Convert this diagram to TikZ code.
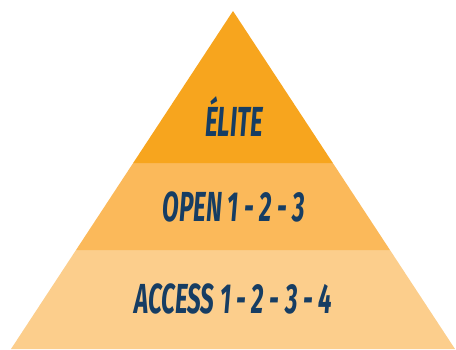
\documentclass[tikz,border=0pt]{standalone}
\usepackage{fontspec}
\setmainfont{Fira Sans}
\newfontfamily\tierfont[FakeStretch=0.58]{Fira Sans}
\usepackage{tikz}
\usetikzlibrary{calc}

\definecolor{eliteorange}{HTML}{F7A51E}
\definecolor{openorange}{HTML}{FBB95A}
\definecolor{accessorange}{HTML}{FCCE8C}
\definecolor{tiernavy}{HTML}{163D63}

\begin{document}
\begin{tikzpicture}[x=1pt, y=-1pt,
  tier/.style={font=\tierfont\bfseries\itshape\fontsize{42}{42}\selectfont, text=tiernavy, inner sep=0pt}]
\useasboundingbox (0,0) rectangle (456,349);
% corners of the pyramid
\coordinate (apex) at (233,11);
\coordinate (bl) at (11,349);
\coordinate (br) at (455,349);
\coordinate (ml) at ($(apex)!0.4497!(bl)$);
\coordinate (mr) at ($(apex)!0.4497!(br)$);
\coordinate (ll) at ($(apex)!0.7071!(bl)$);
\coordinate (lr) at ($(apex)!0.7071!(br)$);
% bands
\fill[accessorange] (ll) -- (lr) -- (br) -- (bl) -- cycle;
\fill[openorange] (ml) -- (mr) -- (lr) -- (ll) -- cycle;
\fill[eliteorange] (apex) -- (mr) -- (ml) -- cycle;
% labels
\node[tier] (elite) at (234,117) {ÉLITE};
\node[tier] (open) at (234,207) {OPEN 1 - 2 - 3};
\node[tier] (access) at (233,299) {ACCESS 1 - 2 - 3 - 4};
\end{tikzpicture}
\end{document}
